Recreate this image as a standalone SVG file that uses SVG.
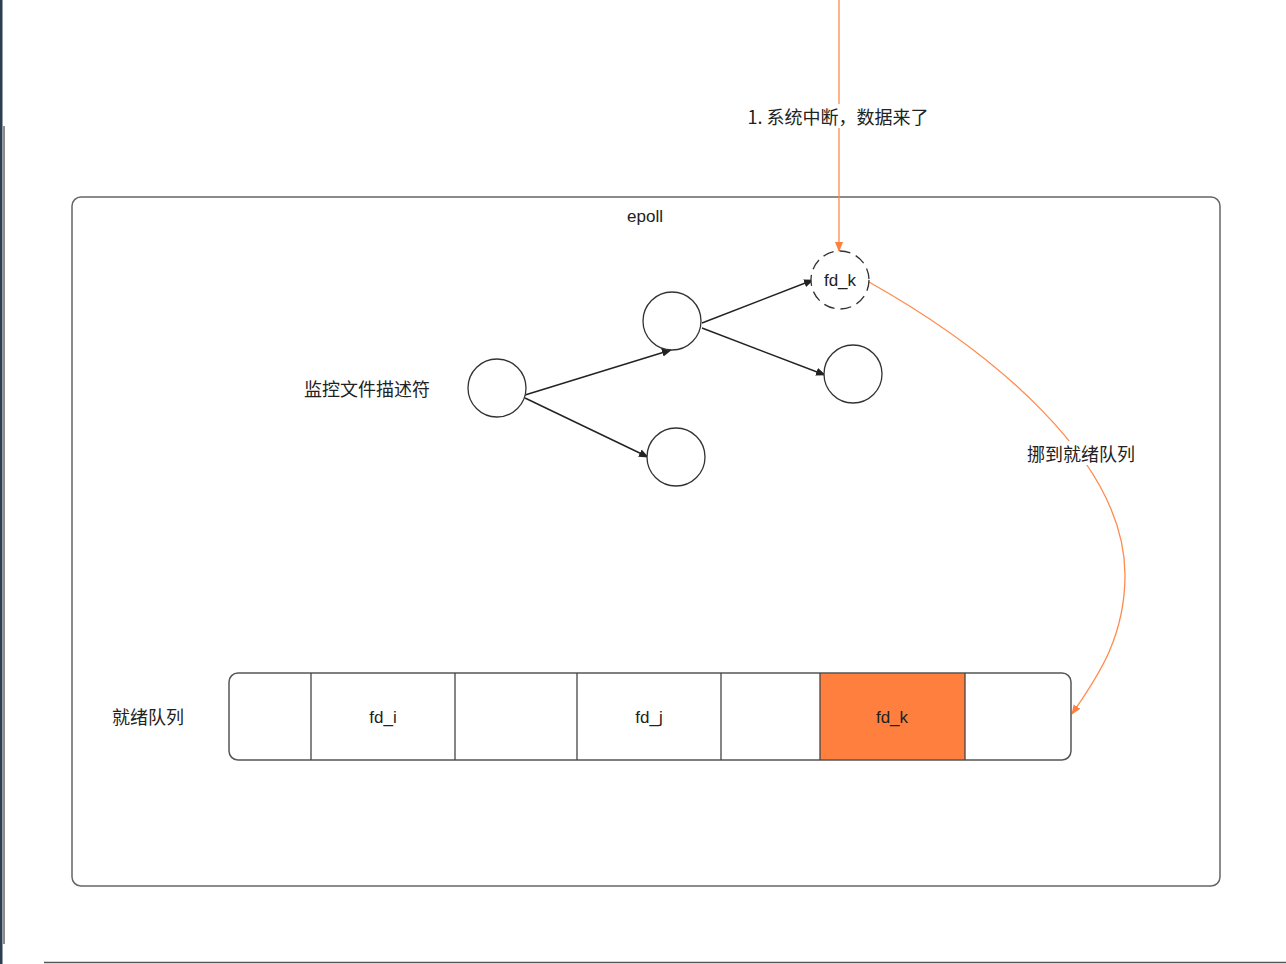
<svg xmlns="http://www.w3.org/2000/svg" width="1286" height="964" viewBox="0 0 1286 964">
<style>
text{font-family:"Noto Sans CJK SC","Liberation Sans",sans-serif;fill:#222;text-anchor:middle;dominant-baseline:central}
.cn{font-size:18px}
.en{font-size:17px;font-family:"Liberation Sans","Noto Sans CJK SC",sans-serif}
.node{fill:#fff;stroke:#333;stroke-width:1.3}
.edge{fill:none;stroke:#222;stroke-width:1.4}
.orange{fill:none;stroke:#ff8a4c;stroke-width:1.3}
.box{fill:#fff;stroke:#666;stroke-width:1.5}
.cell{stroke:#444;stroke-width:1.3}
</style>
<defs>
<marker id="ah" viewBox="0 0 10 10" refX="9" refY="5" markerWidth="10" markerHeight="10" markerUnits="userSpaceOnUse" orient="auto"><path d="M0,1 L10,5 L0,9 z" fill="#222"/></marker>
<marker id="ao" viewBox="0 0 10 10" refX="9" refY="5" markerWidth="10" markerHeight="10" markerUnits="userSpaceOnUse" orient="auto"><path d="M0,1 L10,5 L0,9 z" fill="#ff7f3f"/></marker>
</defs>
<rect width="1286" height="964" fill="#fff"/>
<g id="frame">
<rect x="0" y="0" width="2.5" height="964" fill="#2c3e50"/>
<line x1="4" y1="126" x2="4" y2="944" stroke="#666" stroke-width="1.5"/>
<line x1="44" y1="962.5" x2="1286" y2="962.5" stroke="#555" stroke-width="1.5"/>
</g>
<g id="epoll">
<rect class="box" x="72" y="197" width="1148" height="689" rx="9"/>
<text class="en" x="645" y="216">epoll</text>
</g>
<g id="label-monitor"><text class="cn" x="367" y="388">监控文件描述符</text></g>
<g id="label-ready"><text class="cn" x="148" y="716">就绪队列</text></g>
<g id="connectors">
<line class="orange" x1="839" y1="0" x2="839" y2="251" marker-end="url(#ao)"/>
<line class="edge" x1="525" y1="395" x2="671" y2="350" marker-end="url(#ah)"/>
<line class="edge" x1="525" y1="398" x2="648" y2="457" marker-end="url(#ah)"/>
<line class="edge" x1="702" y1="323" x2="813" y2="280" marker-end="url(#ah)"/>
<line class="edge" x1="702" y1="328" x2="825" y2="375" marker-end="url(#ah)"/>
<path class="orange" d="M869,282 C990,350 1125,460 1125,575 C1125,640 1095,680 1072,714" marker-end="url(#ao)"/>
<rect x="740" y="104" width="196" height="24" fill="#fff"/>
<text class="cn" x="838" y="116">1. 系统中断，数据来了</text>
<rect x="1020" y="441" width="122" height="24" fill="#fff"/>
<text class="cn" x="1081" y="453">挪到就绪队列</text>
</g>
<g id="node-fdk">
<circle cx="840" cy="280" r="29" fill="#fff" stroke="#333" stroke-width="1.3" stroke-dasharray="11 6"/>
<text class="en" x="840" y="280">fd_k</text>
</g>
<g id="node-a"><circle class="node" cx="497" cy="388" r="29"/></g>
<g id="node-b"><circle class="node" cx="672" cy="321" r="29"/></g>
<g id="node-c"><circle class="node" cx="853" cy="374" r="29"/></g>
<g id="node-d"><circle class="node" cx="676" cy="457" r="29"/></g>
<g id="queue">
<rect x="820" y="673" width="145" height="87" fill="#ff7f3f"/>
<rect x="229" y="673" width="842" height="87" rx="9" fill="none" stroke="#555" stroke-width="1.5"/>
<line class="cell" x1="311" y1="673" x2="311" y2="760"/>
<line class="cell" x1="455" y1="673" x2="455" y2="760"/>
<line class="cell" x1="577" y1="673" x2="577" y2="760"/>
<line class="cell" x1="721" y1="673" x2="721" y2="760"/>
<line class="cell" x1="820" y1="673" x2="820" y2="760"/>
<line class="cell" x1="965" y1="673" x2="965" y2="760"/>
<text class="en" x="383" y="717">fd_i</text>
<text class="en" x="649" y="717">fd_j</text>
<text class="en" x="892" y="717">fd_k</text>
</g>
</svg>
